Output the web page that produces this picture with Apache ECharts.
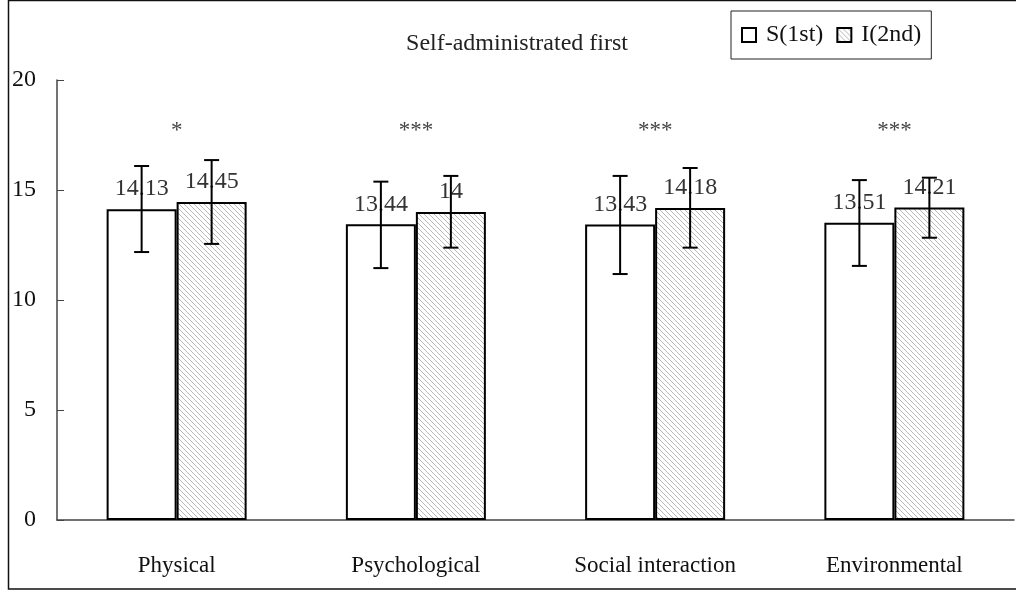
<!DOCTYPE html>
<html>
<head>
<meta charset="utf-8">
<script src="https://cdn.jsdelivr.net/npm/echarts@6/dist/echarts.min.js"></script>
<style>
  html, body { margin: 0; padding: 0; background: #fff; }
  #chart { width: 1016px; height: 592px; }
</style>
</head>
<body>
<div id="chart"></div>
<script>
const categories = ['Physical', 'Psychological', 'Social interaction', 'Environmental']
const sMeans = [14.13, 13.44, 13.43, 13.51]
const iMeans = [14.45, 14, 14.18, 14.21]
const sLow = [12.18, 11.45, 11.18, 11.55]
const sHigh = [16.09, 15.38, 15.64, 15.45]
const iLow = [12.55, 12.38, 12.38, 12.83]
const iHigh = [16.36, 15.64, 16.0, 15.56]
const significance = ['*', '***', '***', '***']
const starLevel = 17.7
const yTicks = [0, 5, 10, 15, 20]

const FONT = '"Liberation Serif", "Times New Roman", serif'
const BAR_W = 70

// diagonal "\\\" hatching for the second series
function hatchPattern() {
  const n = 5
  const c = document.createElement('canvas')
  c.width = n
  c.height = n
  const ctx = c.getContext('2d')
  ctx.fillStyle = '#fff'
  ctx.fillRect(0, 0, n, n)
  ctx.strokeStyle = '#b8b8b8'
  ctx.lineWidth = 1
  ctx.beginPath()
  ctx.moveTo(-1, -1); ctx.lineTo(n + 1, n + 1)
  ctx.moveTo(-1, n - 1); ctx.lineTo(1, n + 1)
  ctx.moveTo(n - 1, -1); ctx.lineTo(n + 1, 1)
  ctx.stroke()
  return { image: c, repeat: 'repeat' }
}

function errorSeries(low, high, offset) {
  return {
    type: 'custom',
    z: 5,
    silent: true,
    data: low.map((v, i) => [i, v, high[i]]),
    renderItem(params, api) {
      const lo = api.coord([api.value(0), api.value(1)])
      const hi = api.coord([api.value(0), api.value(2)])
      const x = lo[0] + offset
      const cap = 7.5
      const style = { stroke: '#000', lineWidth: 2 }
      return {
        type: 'group',
        children: [
          { type: 'line', shape: { x1: x, y1: hi[1], x2: x, y2: lo[1] }, style },
          { type: 'line', shape: { x1: x - cap, y1: hi[1], x2: x + cap, y2: hi[1] }, style },
          { type: 'line', shape: { x1: x - cap, y1: lo[1], x2: x + cap, y2: lo[1] }, style }
        ]
      }
    }
  }
}

const chart = echarts.init(document.getElementById('chart'))
const hatch = hatchPattern()

chart.setOption({
  animation: false,
  backgroundColor: '#fff',
  textStyle: { fontFamily: FONT },
  title: {
    text: 'Self-administrated first',
    left: 512,
    top: 27,
    textAlign: 'center',
    textStyle: { fontFamily: FONT, fontSize: 24, fontWeight: 'normal', color: '#222' }
  },
  legend: {
    data: ['S(1st)', 'I(2nd)'],
    left: 731,
    top: 11,
    padding: [12, 10, 12, 10],
    borderColor: '#222',
    borderWidth: 1,
    itemWidth: 14,
    itemHeight: 14,
    itemGap: 13,
    icon: 'rect',
    itemStyle: { borderColor: '#000', borderWidth: 2 },
    textStyle: { fontFamily: FONT, fontSize: 24, color: '#111', padding: [5, 0, 0, 5] }
  },
  graphic: [
    {
      type: 'rect',
      silent: true,
      shape: { x: 8.5, y: 0.5, width: 1100, height: 588.5 },
      style: { fill: 'none', stroke: '#111', lineWidth: 1.5 }
    }
  ],
  grid: { left: 57, right: 2, top: 80, bottom: 72 },
  xAxis: {
    type: 'category',
    data: categories,
    axisLine: { lineStyle: { color: '#444', width: 1.5 } },
    axisTick: { inside: true, length: 7, lineStyle: { color: '#444' } },
    axisLabel: { fontFamily: FONT, fontSize: 23, color: '#111', margin: 34 }
  },
  yAxis: {
    type: 'value',
    min: 0,
    max: 20,
    interval: 5,
    axisLine: { show: true, lineStyle: { color: '#444', width: 1.5 } },
    axisTick: { show: true, inside: true, length: 7, lineStyle: { color: '#444' } },
    splitLine: { show: false },
    axisLabel: {
      fontFamily: FONT,
      fontSize: 24,
      color: '#111',
      margin: 21,
      padding: [10, 0, 0, 0],
      formatter: (v) => (yTicks.includes(v) ? String(v) : '')
    }
  },
  series: [
    {
      name: 'S(1st)',
      type: 'bar',
      data: sMeans,
      barWidth: BAR_W,
      barGap: '0%',
      itemStyle: { color: '#fff', borderColor: '#000', borderWidth: 2 },
      label: {
        show: true,
        position: 'top',
        distance: 8,
        fontFamily: FONT,
        fontSize: 24,
        color: '#333'
      }
    },
    {
      name: 'I(2nd)',
      type: 'bar',
      data: iMeans,
      barWidth: BAR_W,
      barGap: '0%',
      itemStyle: { color: hatch, borderColor: '#000', borderWidth: 2 },
      label: {
        show: true,
        position: 'top',
        distance: 8,
        fontFamily: FONT,
        fontSize: 24,
        color: '#333'
      }
    },
    errorSeries(sLow, sHigh, -BAR_W / 2),
    errorSeries(iLow, iHigh, BAR_W / 2),
    {
      type: 'custom',
      silent: true,
      data: significance.map((s, i) => [i, starLevel, s]),
      renderItem(params, api) {
        const p = api.coord([api.value(0), api.value(1)])
        return {
          type: 'text',
          style: {
            x: p[0],
            y: p[1],
            text: significance[params.dataIndex],
            align: 'center',
            verticalAlign: 'middle',
            font: '23px ' + FONT,
            fill: '#444'
          }
        }
      }
    }
  ]
})
</script>
</body>
</html>
